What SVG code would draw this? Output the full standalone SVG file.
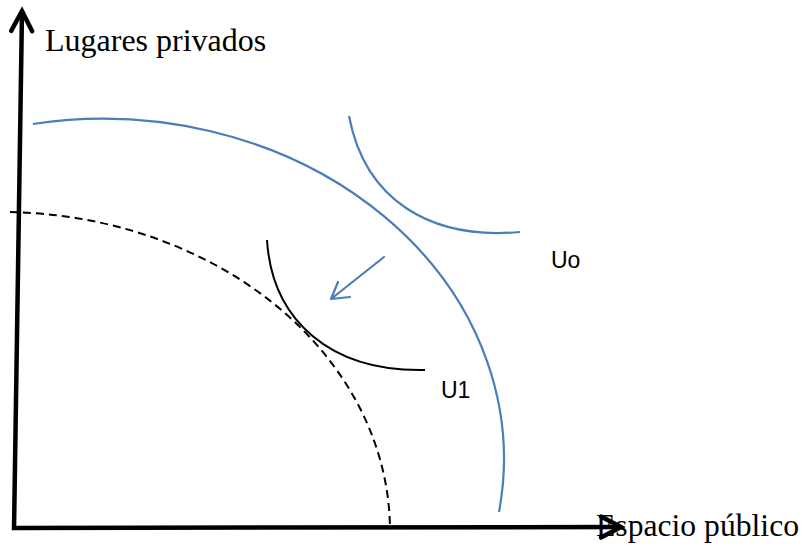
<svg xmlns="http://www.w3.org/2000/svg" width="804" height="548" viewBox="0 0 804 548">
<style>
.axis{stroke:#000;stroke-width:4.5;fill:none}
.blue{stroke:#4A7EBB;stroke-width:2.2;fill:none}
.black{stroke:#000;stroke-width:2;fill:none}
.dash{stroke:#000;stroke-width:2;fill:none;stroke-dasharray:8 5}
.serif{font-family:"Liberation Serif","Times New Roman",serif;font-size:32px;fill:#000}
.sans{font-family:"Liberation Sans",Arial,sans-serif;font-size:23px;fill:#000}
</style>
<defs>
<marker id="axhead" markerUnits="userSpaceOnUse" orient="auto" refX="0" refY="0" markerWidth="30" markerHeight="30" overflow="visible">
<path d="M-20,-10.5 L0,0 L-20,10.5" stroke="#000" stroke-width="4.5" fill="none" stroke-linecap="round"/>
</marker>
</defs>
<rect width="804" height="548" fill="#fff"/>
<g id="axes">
<path id="y-axis" class="axis" d="M14,530 L22,11" marker-end="url(#axhead)"/>
<path id="x-axis" class="axis" d="M12,528 L621,527" marker-end="url(#axhead)"/>
</g>
<g id="curves">
<path id="budget-outer" class="blue" d="M33,124 A401,340 0 0 1 499,512"/>
<path id="budget-inner" class="dash" d="M10,212 A390,319 0 0 1 389.9,525"/>
<path id="Uo-curve" class="blue" d="M349,116 C365,200 430,240 520,232"/>
<path id="U1-curve" class="black" d="M267,240 C272,320 330,372 425,370"/>
<path id="shift-arrow" class="blue" d="M384,257 L331,299 M338,282 L331,299 L350,297" stroke-linecap="round" stroke-linejoin="round"/>
</g>
<g id="labels">
<text id="y-label" class="serif" x="45" y="51">Lugares privados</text>
<text id="x-label" class="serif" x="596" y="536" textLength="203" lengthAdjust="spacingAndGlyphs">Espacio público</text>
<text id="Uo" class="sans" x="551" y="268">Uo</text>
<text id="U1" class="sans" x="441" y="398">U1</text>
</g>
</svg>
